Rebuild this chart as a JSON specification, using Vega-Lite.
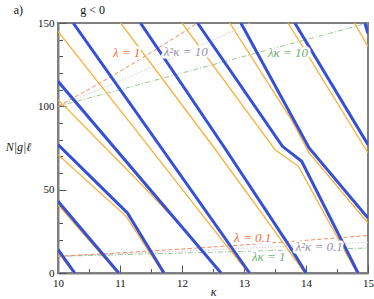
{
  "$schema": "https://vega.github.io/schema/vega-lite/v6.json",
  "width": 310,
  "height": 250,
  "autosize": "none",
  "padding": {"left": 58, "top": 23, "right": 6, "bottom": 26},
  "background": "white",
  "config": {
    "view": {"stroke": "#808080", "strokeWidth": 2},
    "font": "Liberation Serif"
  },
  "datasets": {
    "blue": [
      {"id": "B1", "k": 10, "v": 14}, {"id": "B1", "k": 10.27, "v": 0},
      {"id": "B2", "k": 10, "v": 43}, {"id": "B2", "k": 10.98, "v": 0},
      {"id": "B3", "k": 10, "v": 77}, {"id": "B3", "k": 11.12, "v": 36}, {"id": "B3", "k": 11.71, "v": 0},
      {"id": "B4", "k": 10, "v": 115}, {"id": "B4", "k": 12.63, "v": 0},
      {"id": "B5", "k": 10.245, "v": 150}, {"id": "B5", "k": 13.09, "v": 0},
      {"id": "B6", "k": 11.33, "v": 150}, {"id": "B6", "k": 12.69, "v": 75}, {"id": "B6", "k": 13.77, "v": 14}, {"id": "B6", "k": 14.0, "v": 0},
      {"id": "B7", "k": 12.25, "v": 150}, {"id": "B7", "k": 13.62, "v": 76}, {"id": "B7", "k": 13.93, "v": 67}, {"id": "B7", "k": 14.84, "v": 0},
      {"id": "B8", "k": 12.95, "v": 150}, {"id": "B8", "k": 14.05, "v": 75}, {"id": "B8", "k": 15, "v": 33},
      {"id": "B9", "k": 13.82, "v": 150}, {"id": "B9", "k": 15, "v": 77},
      {"id": "B10", "k": 14.95, "v": 150}, {"id": "B10", "k": 15, "v": 143.6}
    ],
    "orange": [
      {"id": "O1", "k": 10, "v": 12.5}, {"id": "O1", "k": 10.25, "v": 0},
      {"id": "O2", "k": 10, "v": 41}, {"id": "O2", "k": 10.96, "v": 0},
      {"id": "O3", "k": 10, "v": 71}, {"id": "O3", "k": 11.1, "v": 34}, {"id": "O3", "k": 11.69, "v": 0},
      {"id": "O4", "k": 10, "v": 104}, {"id": "O4", "k": 10.77, "v": 75}, {"id": "O4", "k": 11.22, "v": 58}, {"id": "O4", "k": 12.09, "v": 24}, {"id": "O4", "k": 12.61, "v": 0},
      {"id": "O5", "k": 10, "v": 145}, {"id": "O5", "k": 11.25, "v": 86}, {"id": "O5", "k": 12.45, "v": 29}, {"id": "O5", "k": 13.07, "v": 0},
      {"id": "O6", "k": 11.01, "v": 150}, {"id": "O6", "k": 12.52, "v": 75}, {"id": "O6", "k": 13.42, "v": 29}, {"id": "O6", "k": 13.98, "v": 0},
      {"id": "O7", "k": 12.0, "v": 150}, {"id": "O7", "k": 12.48, "v": 125.6}, {"id": "O7", "k": 13.5, "v": 74}, {"id": "O7", "k": 13.88, "v": 64}, {"id": "O7", "k": 14.82, "v": 0},
      {"id": "O8", "k": 12.77, "v": 150}, {"id": "O8", "k": 13.77, "v": 91.6}, {"id": "O8", "k": 14.05, "v": 72}, {"id": "O8", "k": 15, "v": 30},
      {"id": "O9", "k": 13.71, "v": 150}, {"id": "O9", "k": 15, "v": 72},
      {"id": "O10", "k": 14.78, "v": 150}, {"id": "O10", "k": 15, "v": 136}
    ],
    "lam": [
      {"id": "l1", "k": 10, "v": 100}, {"id": "l1", "k": 10.5, "v": 110.25}, {"id": "l1", "k": 11, "v": 121}, {"id": "l1", "k": 11.5, "v": 132.25}, {"id": "l1", "k": 12, "v": 144}, {"id": "l1", "k": 12.5, "v": 156.25},
      {"id": "l01", "k": 10, "v": 10}, {"id": "l01", "k": 11, "v": 12.1}, {"id": "l01", "k": 12, "v": 14.4}, {"id": "l01", "k": 13, "v": 16.9}, {"id": "l01", "k": 14, "v": 19.6}, {"id": "l01", "k": 15, "v": 22.5}
    ],
    "lam2k": [
      {"id": "a10", "k": 10, "v": 100}, {"id": "a10", "k": 10.5, "v": 107.59}, {"id": "a10", "k": 11, "v": 115.37}, {"id": "a10", "k": 11.5, "v": 123.32}, {"id": "a10", "k": 12, "v": 131.45}, {"id": "a10", "k": 12.5, "v": 139.75}, {"id": "a10", "k": 13, "v": 148.22}, {"id": "a10", "k": 13.5, "v": 156.86},
      {"id": "a01", "k": 10, "v": 10}, {"id": "a01", "k": 11, "v": 11.54}, {"id": "a01", "k": 12, "v": 13.15}, {"id": "a01", "k": 13, "v": 14.82}, {"id": "a01", "k": 14, "v": 16.57}, {"id": "a01", "k": 15, "v": 18.37}
    ],
    "lamk": [
      {"id": "b10", "k": 10, "v": 100}, {"id": "b10", "k": 15, "v": 150},
      {"id": "b1", "k": 10, "v": 10}, {"id": "b1", "k": 15, "v": 15}
    ],
    "labels": [
      {"t": "λ = 1", "k": 11.107, "v": 132.1, "g": "red"},
      {"t": "λ²κ = 10", "k": 12.06, "v": 132.4, "g": "gray"},
      {"t": "λκ = 10", "k": 13.71, "v": 131.8, "g": "green"},
      {"t": "λ = 0.1", "k": 13.14, "v": 20.8, "g": "red"},
      {"t": "λ²κ = 0.1", "k": 14.21, "v": 15.4, "g": "gray"},
      {"t": "λκ = 1", "k": 13.4, "v": 9.4, "g": "green"}
    ],
    "heads": [
      {"t": "a)", "k": 9.36, "v": 158, "s": "normal"},
      {"t": "g < 0", "k": 10.56, "v": 158, "s": "italic"}
    ]
  },
  "encoding": {
    "x": {
      "field": "k", "type": "quantitative",
      "scale": {"domain": [10, 15], "nice": false, "zero": false},
      "axis": {
        "title": "κ", "titleFont": "Liberation Serif", "titleFontStyle": "italic", "titleFontWeight": "normal", "titleFontSize": 12, "titleColor": "#222",
        "titleY": 18, "titleBaseline": "middle",
        "values": [10, 10.5, 11, 11.5, 12, 12.5, 13, 13.5, 14, 14.5, 15],
        "labelExpr": "datum.value % 1 === 0 ? '' + datum.value : ''",
        "tickSize": {"condition": {"test": "datum.value % 1 === 0", "value": -8}, "value": -4.5},
        "labelPadding": 12, "labelFont": "Liberation Serif", "labelFontSize": 11, "labelColor": "#111", "labelFlush": false,
        "tickColor": "#555", "tickWidth": 1, "domainColor": "#808080", "domainWidth": 2, "grid": false
      }
    },
    "y": {
      "field": "v", "type": "quantitative",
      "scale": {"domain": [0, 150], "nice": false, "zero": false},
      "axis": {
        "title": "N|g|ℓ", "titleFont": "Liberation Serif", "titleFontStyle": "italic", "titleFontWeight": "normal", "titleFontSize": 12, "titleColor": "#222",
        "titleAngle": 0, "titleX": -40, "titleY": 123, "titleAlign": "center", "titleBaseline": "middle",
        "values": [0, 10, 20, 30, 40, 50, 60, 70, 80, 90, 100, 110, 120, 130, 140, 150],
        "labelExpr": "datum.value % 50 === 0 ? '' + datum.value : ''",
        "tickSize": {"condition": {"test": "datum.value % 50 === 0", "value": -8}, "value": -4.5},
        "labelPadding": 12, "labelFont": "Liberation Serif", "labelFontSize": 11, "labelColor": "#111", "labelFlush": false,
        "tickColor": "#555", "tickWidth": 1, "domainColor": "#808080", "domainWidth": 2, "grid": false
      }
    }
  },
  "layer": [
    {
      "data": {"name": "lam2k"},
      "mark": {"type": "line", "clip": true, "color": "#cfcfcf", "strokeWidth": 1, "strokeDash": [1.5, 1.5]},
      "encoding": {"detail": {"field": "id"}}
    },
    {
      "data": {"name": "lamk"},
      "mark": {"type": "line", "clip": true, "color": "#98c898", "strokeWidth": 1, "strokeDash": [5, 2, 1, 2]},
      "encoding": {"detail": {"field": "id"}}
    },
    {
      "data": {"name": "lam"},
      "mark": {"type": "line", "clip": true, "color": "#f8875a", "strokeWidth": 1, "strokeDash": [4, 2.5]},
      "encoding": {"detail": {"field": "id"}}
    },
    {
      "data": {"name": "orange"},
      "mark": {"type": "line", "clip": true, "color": "#fbb03b", "strokeWidth": 1.3},
      "encoding": {"detail": {"field": "id"}}
    },
    {
      "data": {"name": "blue"},
      "mark": {"type": "line", "clip": true, "color": "#3550d6", "strokeWidth": 3},
      "encoding": {"detail": {"field": "id"}}
    },
    {
      "data": {"name": "labels"},
      "mark": {"type": "text", "font": "Liberation Serif", "fontStyle": "italic", "fontSize": 13, "align": "center", "baseline": "middle", "stroke": "white", "strokeWidth": 5, "strokeJoin": "round", "fill": "white"},
      "encoding": {"text": {"field": "t"}}
    },
    {
      "data": {"name": "labels"},
      "mark": {"type": "text", "font": "Liberation Serif", "fontStyle": "italic", "fontSize": 13, "align": "center", "baseline": "middle"},
      "encoding": {
        "text": {"field": "t"},
        "color": {"field": "g", "type": "nominal", "scale": {"domain": ["red", "gray", "green"], "range": ["#f26b3f", "#9292aa", "#72ae72"]}, "legend": null}
      }
    },
    {
      "data": {"name": "heads"},
      "mark": {"type": "text", "font": "Liberation Serif", "fontSize": 12, "align": "center", "baseline": "middle", "color": "#111"},
      "encoding": {
        "text": {"field": "t"},
        "fontStyle": {"field": "s", "type": "nominal", "scale": null}
      }
    }
  ]
}
